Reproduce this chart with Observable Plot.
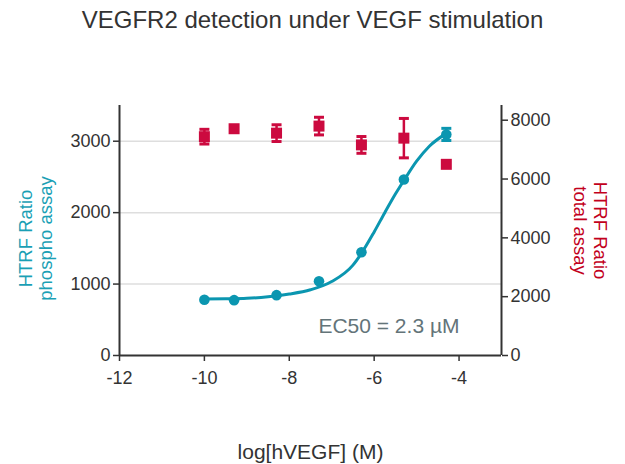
<!DOCTYPE html>
<html><head><meta charset="utf-8">
<script src="https://cdn.jsdelivr.net/npm/d3@7"></script>
<script src="https://cdn.jsdelivr.net/npm/@observablehq/plot@0.6"></script>
<style>
body{margin:0;background:#fff;font-family:"Liberation Sans",Arial,sans-serif;}
#title{width:625px;height:40px;line-height:40px;text-align:center;font-size:24px;color:#333;}
</style></head><body>
<div id="title">VEGFR2 detection under VEGF stimulation</div>
<div id="chart"></div>
<script>
// Concentrations (log M)
const xLog = [-10, -9.3, -8.3, -7.3, -6.3, -5.3, -4.3];
// Phospho assay (left axis)
const phospho = [780, 775, 845, 1040, 1446, 2465, 3095];
const phosphoSD = [0, 0, 0, 0, 0, 0, 85];
// Total assay (right axis)
const total = [7440, 7710, 7560, 7800, 7160, 7390, 6500];
const totalSD = [250, 0, 285, 300, 285, 670, 0];
// Fitted curve
const curveX = [-10, -9.5, -9, -8.5, -8, -7.5, -7, -6.5, -6.3, -6, -5.75, -5.5, -5.3, -5, -4.7, -4.3];
const curveY = [790, 793, 800, 822, 860, 920, 1035, 1265, 1430, 1730, 2000, 2260, 2450, 2720, 2930, 3110];
// Axes
const xTicks = [-12, -10, -8, -6, -4];
const leftTicks = [0, 1000, 2000, 3000];
const rightTicks = [0, 2000, 4000, 6000, 8000];
const xDomain = [-12, -3];
const leftMax = 3500, rightMax = 8500;
const ec50Label = "EC50 = 2.3 µM";

const blue = "#0b96b0", red = "#cc0a3f", axisCol = "#333";
const k = leftMax / rightMax;
const pts = xLog.map((x, i) => ({
  x, p: phospho[i], pLo: phospho[i] - phosphoSD[i], pHi: phospho[i] + phosphoSD[i],
  t: total[i] * k, tLo: (total[i] - totalSD[i]) * k, tHi: (total[i] + totalSD[i]) * k,
  hasP: phosphoSD[i] > 0, hasT: totalSD[i] > 0
}));
const pErr = pts.filter(d => d.hasP), tErr = pts.filter(d => d.hasT);
const curve = curveX.map((x, i) => ({x, y: curveY[i]}));
const cap = {draw(ctx, size) { const w = Math.sqrt(size / Math.PI); ctx.moveTo(-w, 0); ctx.lineTo(w, 0); }};

const chart = Plot.plot({
  width: 625, height: 424,
  marginTop: 65, marginBottom: 109, marginLeft: 119, marginRight: 124,
  style: {fontFamily: '"Liberation Sans", Arial, sans-serif', fontSize: "18px", color: axisCol, background: "transparent"},
  x: {domain: xDomain},
  y: {domain: [0, leftMax]},
  marks: [
    Plot.gridY(leftTicks.filter(d => d > 0), {stroke: "#dedede", strokeOpacity: 1, strokeWidth: 1.5}),
    Plot.axisX(xTicks, {tickSize: 6, tickPadding: 10, fontSize: 18, stroke: axisCol, strokeWidth: 1.5, label: null, tickFormat: d => String(d)}),
    Plot.axisY(leftTicks, {anchor: "left", tickSize: 6, tickPadding: 3, fontSize: 18, stroke: axisCol, strokeWidth: 1.5, label: null, tickFormat: d => String(d)}),
    Plot.axisY(rightTicks.map(v => v * k), {anchor: "right", tickSize: 6, tickPadding: 3, fontSize: 18, stroke: axisCol, strokeWidth: 1.5, label: null, tickFormat: d => String(Math.round(d / k))}),
    Plot.ruleY([0], {stroke: axisCol, strokeWidth: 2}),
    Plot.ruleX([xDomain[0], xDomain[1]], {stroke: axisCol, strokeWidth: 2}),
    // total assay
    Plot.ruleX(tErr, {x: "x", y1: "tLo", y2: "tHi", stroke: red, strokeWidth: 2.5}),
    Plot.dot(tErr, {x: "x", y: "tLo", symbol: cap, r: 5, fill: "none", stroke: red, strokeWidth: 3}),
    Plot.dot(tErr, {x: "x", y: "tHi", symbol: cap, r: 5, fill: "none", stroke: red, strokeWidth: 3}),
    Plot.dot(pts, {x: "x", y: "t", symbol: "square", r: 6.2, fill: red, stroke: "none"}),
    // phospho assay
    Plot.line(curve, {x: "x", y: "y", curve: "monotone-x", stroke: blue, strokeWidth: 3}),
    Plot.ruleX(pErr, {x: "x", y1: "pLo", y2: "pHi", stroke: blue, strokeWidth: 2.5}),
    Plot.dot(pErr, {x: "x", y: "pLo", symbol: cap, r: 5, fill: "none", stroke: blue, strokeWidth: 3}),
    Plot.dot(pErr, {x: "x", y: "pHi", symbol: cap, r: 5, fill: "none", stroke: blue, strokeWidth: 3}),
    Plot.dot(pts, {x: "x", y: "p", r: 5.3, fill: blue, stroke: "none"}),
    // texts
    Plot.text([ec50Label], {frameAnchor: "bottom-right", dx: -42, dy: -29, textAnchor: "end", lineAnchor: "middle", fontSize: 21, fill: "#637479"}),
    Plot.text(["log[hVEGF] (M)"], {frameAnchor: "bottom", dy: 97, lineAnchor: "middle", fontSize: 21, fill: axisCol}),
    Plot.text(["HTRF Ratio\nphospho assay"], {frameAnchor: "left", dx: -84, dy: 8, rotate: -90, textAnchor: "middle", lineAnchor: "middle", fontSize: 18.5, lineHeight: 1.1, fill: "#1a9fb5"}),
    Plot.text(["HTRF Ratio\ntotal assay"], {frameAnchor: "right", dx: 89, dy: 0, rotate: 90, textAnchor: "middle", lineAnchor: "middle", fontSize: 18.5, lineHeight: 1.1, fill: "#c2001c"})
  ]
});
document.getElementById("chart").appendChild(chart);
</script></body></html>
